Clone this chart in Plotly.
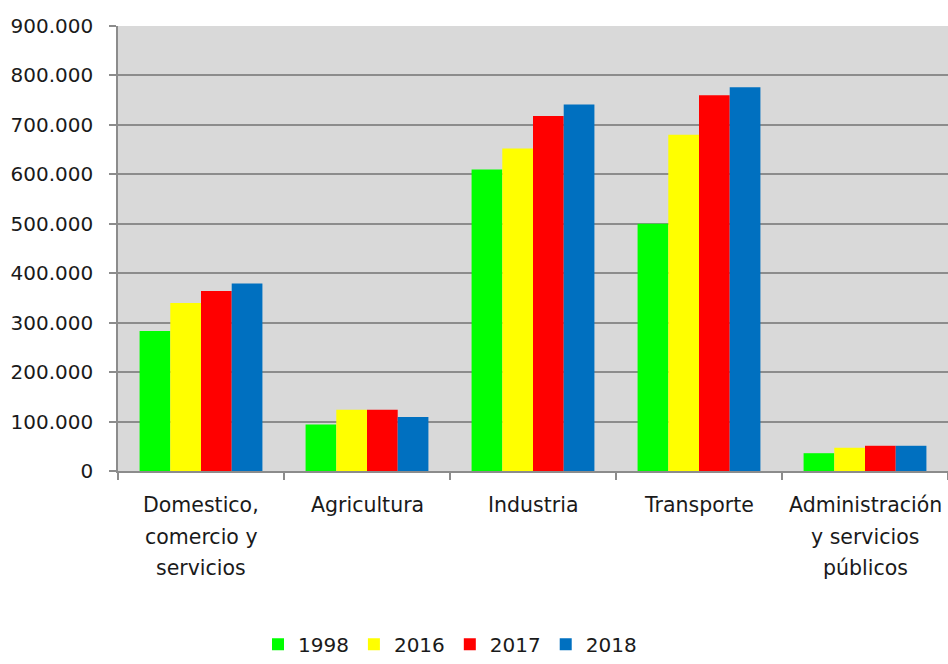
import plotly.graph_objects as go

categories = ["Domestico,<br>comercio y<br>servicios", "Agricultura", "Industria", "Transporte",
              "Administración<br>y servicios<br>públicos"]
series_names = ["1998", "2016", "2017", "2018"]
v1998 = [283000, 94000, 610000, 500000, 36000]
v2016 = [340000, 124000, 652000, 680000, 47000]
v2017 = [364000, 124000, 718000, 760000, 51000]
v2018 = [379000, 109000, 741000, 776000, 51000]
colors = ["#00FF00", "#FFFF00", "#FF0000", "#0070C0"]
y_ticks = [0, 100000, 200000, 300000, 400000, 500000, 600000, 700000, 800000, 900000]

font = "DejaVu Sans"
txt = "#1a1a1a"

fig = go.Figure()
for name, vals, col in zip(series_names, [v1998, v2016, v2017, v2018], colors):
    fig.add_trace(go.Bar(x=categories, y=vals, name=name, marker=dict(color=col, line=dict(width=0))))

for cat in categories:
    for i, line in enumerate(cat.split("<br>")):
        fig.add_annotation(x=cat, xref="x", y=0, yref="paper", text=line, showarrow=False,
                           yanchor="middle", xanchor="center", yshift=-(34 + i * 31.5),
                           font=dict(family=font, size=20.5, color=txt))

fig.update_layout(
    width=948, height=664,
    margin=dict(l=118, r=0, t=26, b=193, autoexpand=False),
    paper_bgcolor="white", plot_bgcolor="#D9D9D9",
    separators=",.",
    barmode="group", bargap=0.26, bargroupgap=0,
    font=dict(family=font, size=20, color=txt),
    showlegend=True,
    legend=dict(orientation="h", x=0.40, xanchor="center", y=-0.433, yanchor="bottom",
                font=dict(family=font, size=20, color=txt), itemwidth=30, traceorder="normal"),
    xaxis=dict(showticklabels=False, showline=True, linecolor="#8C8C8C", linewidth=1.5,
               ticks="outside", tickson="boundaries", ticklen=7, tickcolor="#8C8C8C", tickwidth=1.5,
               showgrid=False),
    yaxis=dict(range=[0, 900000], tickvals=y_ticks, tickformat=",d", showline=True,
               linecolor="#8C8C8C", linewidth=1.5, ticks="outside", ticklen=7, tickcolor="#8C8C8C",
               tickwidth=1.5, showgrid=True, gridcolor="#8C8C8C", gridwidth=1.5,
               ticklabelstandoff=12,
               tickfont=dict(family=font, size=20, color=txt), zeroline=False),
)

fig.write_html("out.html", config={"displayModeBar": False},
               post_script="document.body.style.margin='0px';")
